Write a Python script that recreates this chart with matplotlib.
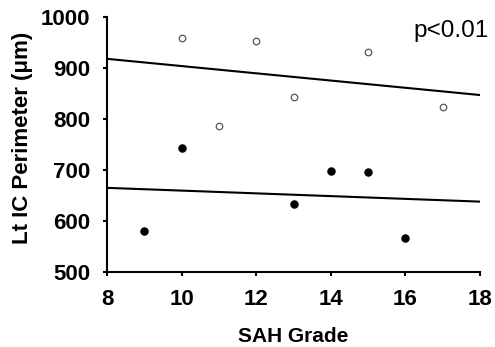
import numpy as np
import matplotlib
matplotlib.use("Agg")
import matplotlib.pyplot as plt

plt.rcParams['font.family'] = ['Liberation Sans', 'DejaVu Sans']

# open circles (upper group)
x_open = [10, 11, 12, 13, 15, 17]
y_open = [958, 787, 952, 843, 932, 823]
# filled circles (lower group)
x_fill = [9, 10, 13, 14, 15, 16]
y_fill = [580, 743, 633, 698, 697, 567]
# trend lines, value at x=8 and x=18
line_x = [8, 18]
line_open = [918, 847]
line_fill = [665, 638]

W, H = 495, 347
fig = plt.figure(figsize=(W/100, H/100), dpi=100)
ax = fig.add_axes([107/W, 1 - 272/H, (480-107)/W, (272-17)/H])

ax.plot(line_x, line_open, color='black', lw=1.5, solid_capstyle='butt')
ax.plot(line_x, line_fill, color='black', lw=1.5, solid_capstyle='butt')
ax.scatter(x_open, y_open, s=22, facecolor='white', edgecolor='#555555', linewidth=0.9, zorder=3)
ax.scatter(x_fill, y_fill, s=26, facecolor='black', edgecolor='black', zorder=3)

ax.set_xlim(8, 18)
ax.set_ylim(500, 1000)
ax.set_xticks(np.arange(8, 19, 2))
ax.set_yticks(np.arange(500, 1001, 100))
for s in ['top', 'right']:
    ax.spines[s].set_visible(False)
for s in ['left', 'bottom']:
    ax.spines[s].set_linewidth(1.5)
ax.tick_params(direction='out', length=3, width=1.5, labelsize=16, pad=9)
for lab in ax.get_xticklabels() + ax.get_yticklabels():
    lab.set_fontweight('bold')

# axis titles placed in pixel terms
fig.text(293/W, 1 - 342/H, 'SAH Grade', ha='center', va='baseline',
         fontsize=15, fontweight='bold')
fig.text(23/W, 1 - 138/H, 'Lt IC Perimeter (\u03bcm)', ha='center', va='center',
         rotation=90, fontsize=16, fontweight='bold')
fig.text(489/W, 1 - 37/H, 'p<0.01', ha='right', va='baseline', fontsize=17.5)

fig.savefig('out.png', dpi=100)
